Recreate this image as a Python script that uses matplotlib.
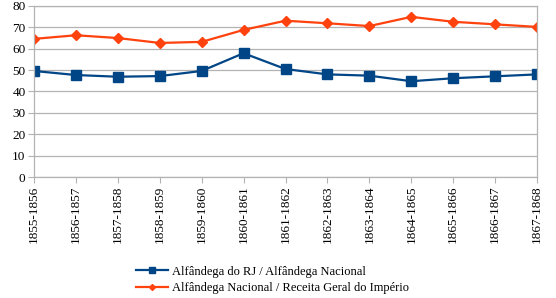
import matplotlib
matplotlib.use("Agg")
import matplotlib.pyplot as plt

plt.rcParams['font.family'] = ['Liberation Serif', 'DejaVu Serif']

# exercise years
years = ["1855-1856", "1856-1857", "1857-1858", "1858-1859", "1859-1860",
         "1860-1861", "1861-1862", "1862-1863", "1863-1864", "1864-1865",
         "1865-1866", "1866-1867", "1867-1868"]

# percentages
alfandega_rj = [49.6, 47.7, 46.9, 47.2, 49.6, 57.9, 50.5, 48.0, 47.4, 44.8, 46.2, 47.1, 48.0]
receita_geral = [64.6, 66.3, 65.0, 62.7, 63.2, 68.8, 73.1, 71.9, 70.6, 74.9, 72.6, 71.4, 70.2]

labels = ["Alfândega do RJ / Alfândega Nacional",
          "Alfândega Nacional / Receita Geral do Império"]

fig = plt.figure(figsize=(5.56, 2.98), dpi=100)
ax = fig.add_axes([0.061, 0.406, 0.905, 0.574])

x = range(len(years))
ax.plot(x, alfandega_rj, color="#004586", lw=1.6, marker="s", ms=7.5, label=labels[0])
ax.plot(x, receita_geral, color="#ff420e", lw=1.6, marker="D", ms=5.5, label=labels[1])

ax.set_xlim(0, len(years) - 1)
ax.set_ylim(0, 80)
ax.set_yticks(range(0, 81, 10))
ax.set_xticks(list(x))
ax.set_xticklabels(years, rotation=90, fontsize=9.5)
ax.tick_params(axis="y", labelsize=9.5, length=4, color="#b3b3b3", pad=2)
ax.tick_params(axis="x", length=4, color="#b3b3b3", pad=2)
ax.grid(axis="y", color="#b3b3b3", lw=0.9)
ax.set_axisbelow(True)
for s in ax.spines.values():
    s.set_color("#b3b3b3")
    s.set_linewidth(0.9)

fig.legend(loc="lower center", bbox_to_anchor=(0.49, -0.025), frameon=False,
           fontsize=9, handlelength=2.6, handletextpad=0.3, labelspacing=0.35,
           markerscale=0.55)

fig.savefig("out.png", dpi=100)
